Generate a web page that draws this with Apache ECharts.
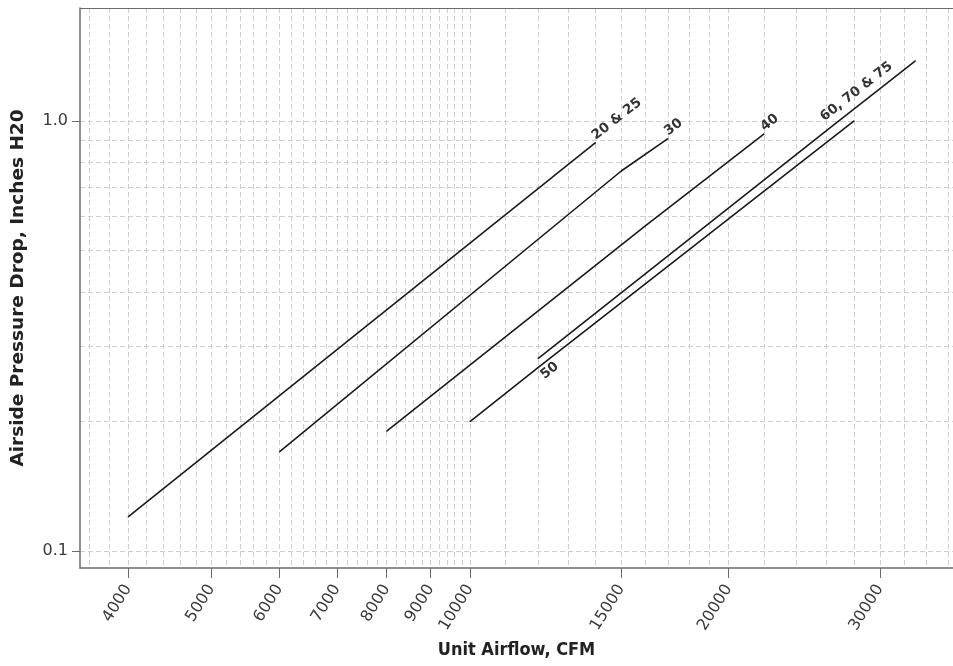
<!DOCTYPE html>
<html><head><meta charset="utf-8">
<script src="https://cdn.jsdelivr.net/npm/echarts@6/dist/echarts.min.js"></script>
<style>html,body{margin:0;padding:0;background:#fff}#c{width:953px;height:666px}</style>
</head><body><div id="c"></div>
<script>
// ---- data ----
const seriesNames = ['20 & 25', '30', '40', '60, 70 & 75', '50'];
const cfm2025 = [4000, 14000];
const dp2025  = [0.12, 0.89];
const cfm30   = [6000, 15000, 17000];
const dp30    = [0.17, 0.765, 0.91];
const cfm40   = [8000, 16000, 22000];
const dp40    = [0.19, 0.57, 0.933];
const cfm607075 = [12000, 26000, 33000];
const dp607075  = [0.28, 0.95, 1.38];
const cfm50   = [10000, 12000, 28000];
const dp50    = [0.20, 0.267, 1.0];

const xTickLabels = [4000, 5000, 6000, 7000, 8000, 9000, 10000, 15000, 20000, 30000];
const yTickLabels = [0.1, 1.0];
const yGridValues = [0.1, 0.2, 0.3, 0.4, 0.5, 0.6, 0.7, 0.8, 0.9, 1.0];
const xGridValues = [];
for (let v = 3600; v <= 10000; v += 200) xGridValues.push(v);
for (let v = 11000; v <= 20000; v += 1000) xGridValues.push(v);
for (let v = 22000; v <= 36000; v += 2000) xGridValues.push(v);

const xMin = 3516, xMax = 36500, yMin = 0.0913, yMax = 1.831;

// ---- styling of the curve labels (which point carries it, how it is placed) ----
const labelFont = { fontFamily: 'DejaVu Sans', fontWeight: 'bold', fontSize: 13.5, color: '#333' };
const labelSpec = [
  { idx: 1, position: 'right', align: 'left', verticalAlign: 'bottom', distance: 2, offset: [0, 0] },
  { idx: 2, position: 'right', align: 'left', verticalAlign: 'bottom', distance: 2, offset: [0, 0] },
  { idx: 2, position: 'right', align: 'left', verticalAlign: 'bottom', distance: 2, offset: [0, 0] },
  { idx: 1, position: 'top', align: 'left', verticalAlign: 'bottom', distance: 6, offset: [6, -2] },
  { idx: 1, position: 'bottom', align: 'left', verticalAlign: 'top', distance: 3, offset: [3, 1] }
];
const xs = [cfm2025, cfm30, cfm40, cfm607075, cfm50];
const ys = [dp2025, dp30, dp40, dp607075, dp50];

const series = seriesNames.map((name, s) => ({
  name, type: 'line', xAxisIndex: 1, yAxisIndex: 1,
  showSymbol: true, showAllSymbol: true, symbol: 'circle', symbolSize: 1,
  itemStyle: { color: '#1a1a1a' },
  lineStyle: { color: '#1a1a1a', width: 1.6 },
  emphasis: { disabled: true },
  labelLayout: { hideOverlap: false },
  data: xs[s].map((x, i) => {
    const item = { value: [x, ys[s][i]] };
    if (i === labelSpec[s].idx) {
      item.label = Object.assign({ show: true, formatter: name, rotate: 38 }, labelFont, {
        position: labelSpec[s].position, align: labelSpec[s].align,
        verticalAlign: labelSpec[s].verticalAlign, distance: labelSpec[s].distance,
        offset: labelSpec[s].offset
      });
    }
    return item;
  })
}));

const axisColor = '#6b6b6b';
const tickFont = { fontFamily: 'DejaVu Sans', fontSize: 16, color: '#3a3a3a' };

const chart = echarts.init(document.getElementById('c'), null, { renderer: 'canvas' });
chart.setOption({
  animation: false,
  backgroundColor: '#fff',
  grid: { left: 80, right: 0, top: 8, bottom: 98, containLabel: false },
  xAxis: [
    { type: 'log', position: 'top', min: xMin, max: xMax,
      axisLine: { show: true, onZero: false, lineStyle: { color: axisColor, width: 1 } },
      axisTick: { show: false, customValues: xGridValues },
      axisLabel: { show: false },
      splitLine: { show: true, lineStyle: { color: '#cfcfcf', type: [5, 3], width: 1 } } },
    { type: 'log', position: 'bottom', min: xMin, max: xMax,
      name: 'Unit Airflow, CFM', nameLocation: 'middle', nameGap: 71,
      nameTextStyle: { fontFamily: 'DejaVu Sans Condensed', fontWeight: 'bold', fontSize: 18, color: '#222', verticalAlign: 'top' },
      axisLine: { show: true, onZero: false, lineStyle: { color: axisColor, width: 1.5 } },
      axisTick: { show: true, length: 10, customValues: xTickLabels, lineStyle: { color: axisColor } },
      axisLabel: Object.assign({ show: true, customValues: xTickLabels, rotate: 58, margin: 18, formatter: v => String(Math.round(v)) }, tickFont),
      splitLine: { show: false } }
  ],
  yAxis: [
    { type: 'log', position: 'right', min: yMin, max: yMax,
      axisLine: { show: false },
      axisTick: { show: false, customValues: yGridValues },
      axisLabel: { show: false },
      splitLine: { show: true, lineStyle: { color: '#cfcfcf', type: [5, 3], width: 1 } } },
    { type: 'log', position: 'left', min: yMin, max: yMax,
      name: 'Airside Pressure Drop, Inches H20', nameLocation: 'middle', nameGap: 52, nameRotate: 90,
      nameTextStyle: { fontFamily: 'DejaVu Sans', fontWeight: 'bold', fontSize: 18.5, color: '#222' },
      axisLine: { show: true, onZero: false, lineStyle: { color: axisColor, width: 1.5 } },
      axisTick: { show: true, length: 8, customValues: yTickLabels, lineStyle: { color: axisColor } },
      axisLabel: Object.assign({ show: true, customValues: yTickLabels, margin: 12, formatter: v => Number(v).toFixed(1) }, tickFont),
      splitLine: { show: false } }
  ],
  series
});
</script></body></html>
